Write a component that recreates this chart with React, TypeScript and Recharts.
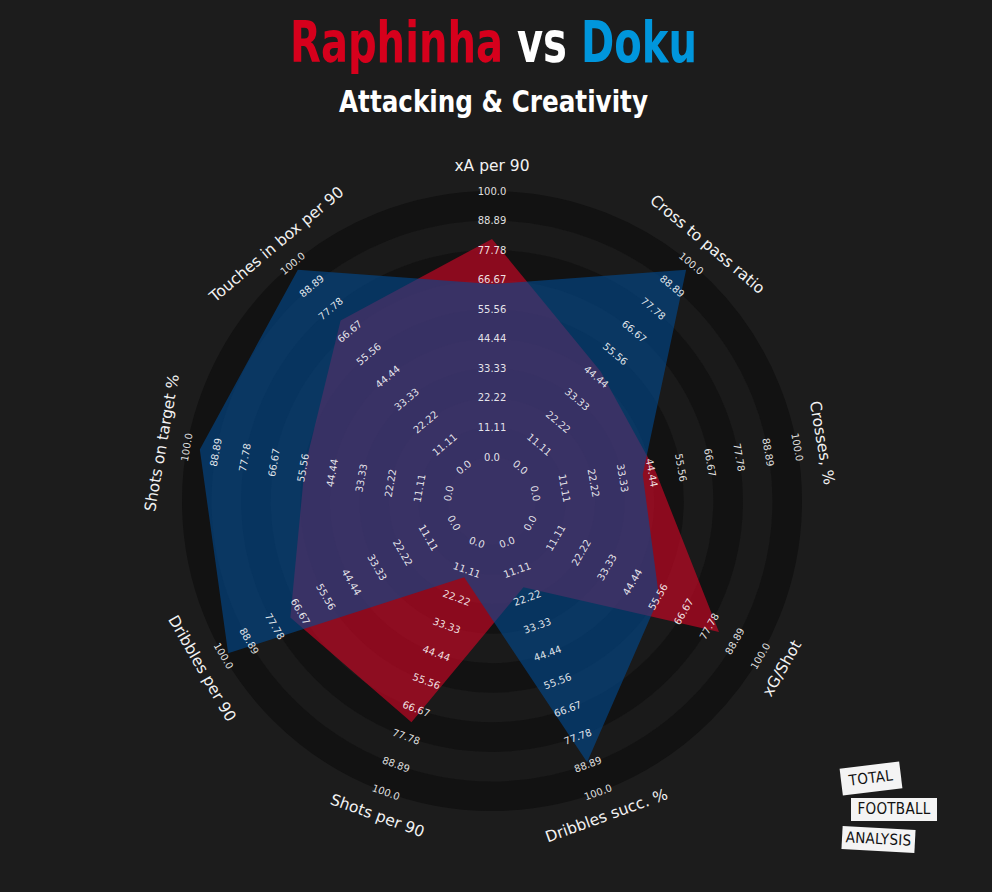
import React from 'react';
import { RadarChart, Radar, PolarGrid, PolarAngleAxis, PolarRadiusAxis } from 'recharts';

// metrics clockwise from the top
const metrics = [
  'xA per 90',
  'Cross to pass ratio',
  'Crosses, %',
  'xG/Shot',
  'Dribbles succ. %',
  'Shots per 90',
  'Dribbles per 90',
  'Shots on target %',
  'Touches in box per 90',
];
const raphinhaValues = [82, 47, 46, 82, 18, 72, 71, 55, 72];
const dokuValues = [65, 97, 41, 56, 88, 14, 98, 95, 97];
const rangeTicks = [0, 11.11, 22.22, 33.33, 44.44, 55.56, 66.67, 77.78, 88.89, 100];
const rangeLabels = ['0.0', '11.11', '22.22', '33.33', '44.44', '55.56', '66.67', '77.78', '88.89', '100.0'];

const W = 992;
const H = 892;
const CX = 492;
const CY = 501;
const INNER_R = 44;
const OUTER_R = 310;
const LABEL_R = 335;
const DOMAIN_MAX = 100;

const BG = '#1c1c1c';
const RING_DARK = '#121212';
const RING_LIGHT = '#1a1a1a';
const RED = '#dc0526';
const BLUE = '#004b93';

const data = metrics.map((m, i) => ({ metric: m, raphinha: raphinhaValues[i], doku: dokuValues[i] }));

// same linear map the radius axis uses: domain [0, 100] -> [INNER_R, OUTER_R]
const rScale = (v: number) => INNER_R + (v / DOMAIN_MAX) * (OUTER_R - INNER_R);

// ring bands between consecutive range ticks, alternating dark / light
const ringStep = (OUTER_R - INNER_R) / (rangeTicks.length - 1);
const darkMids: number[] = [];
const lightMids: number[] = [];
for (let k = 0; k < rangeTicks.length - 1; k++) {
  const mid = (rScale(rangeTicks[k]) + rScale(rangeTicks[k + 1])) / 2;
  if (k % 2 === 0) darkMids.push(mid);
  else lightMids.push(mid);
}

// keep text readable (never upside down)
const upright = (deg: number) => {
  let r = deg;
  while (r > 90) r -= 180;
  while (r <= -90) r += 180;
  return r;
};

const polar = (cx: number, cy: number, r: number, deg: number) => {
  const rad = (-deg * Math.PI) / 180;
  return { x: cx + r * Math.cos(rad), y: cy + r * Math.sin(rad) };
};

const AxisTick = (props: any) => {
  const { payload } = props;
  const cx = props.cx ?? CX;
  const cy = props.cy ?? CY;
  const a = payload.coordinate;
  const rot = upright(90 - a);
  const p = polar(cx, cy, LABEL_R, a);
  return (
    <g>
      {rangeTicks.map((t, i) => {
        const q = polar(cx, cy, rScale(t), a);
        return (
          <text
            key={i}
            x={q.x}
            y={q.y}
            transform={`rotate(${rot}, ${q.x}, ${q.y})`}
            textAnchor="middle"
            dominantBaseline="central"
            fill="#ffffff"
            fillOpacity={0.88}
            fontSize={10}
            fontFamily="DejaVu Sans"
          >
            {rangeLabels[i]}
          </text>
        );
      })}
      <text
        x={p.x}
        y={p.y}
        transform={`rotate(${rot}, ${p.x}, ${p.y})`}
        textAnchor="middle"
        dominantBaseline="central"
        fill="#f2f2f2"
        fontSize={15.5}
        fontFamily="DejaVu Sans"
      >
        {payload.value}
      </text>
    </g>
  );
};

const Logo = () => {
  const box = (text: string, left: number, top: number, w: number, h: number, rot: number) => (
    <div
      style={{
        position: 'absolute',
        left,
        top,
        width: w,
        height: h,
        background: '#f4f4f4',
        transform: `rotate(${rot}deg)`,
        color: '#111',
        fontFamily: 'DejaVu Sans Condensed, DejaVu Sans',
        fontSize: 15,
        letterSpacing: 0.3,
        lineHeight: `${h}px`,
        textAlign: 'center',
      }}
    >
      {text}
    </div>
  );
  return (
    <>
      {box('TOTAL', 841, 765, 60, 27, -7)}
      {box('FOOTBALL', 851, 798, 86, 23, 0)}
      {box('ANALYSIS', 842, 828, 73, 23, 3)}
    </>
  );
};

export default function App() {
  return (
    <div style={{ position: 'absolute', left: 0, top: 0, width: W, height: H, background: BG, overflow: 'hidden' }}>
      <RadarChart
        width={W}
        height={H}
        data={data}
        cx={CX}
        cy={CY}
        innerRadius={INNER_R}
        outerRadius={OUTER_R}
        margin={{ top: 0, right: 0, bottom: 0, left: 0 }}
        style={{ position: 'absolute', left: 0, top: 0 }}
      >
        <PolarGrid gridType="circle" radialLines={false} polarRadius={[INNER_R / 2]} stroke={RING_LIGHT} strokeWidth={INNER_R} fill="none" />
        <PolarGrid gridType="circle" radialLines={false} polarRadius={lightMids} stroke={RING_LIGHT} strokeWidth={ringStep} fill="none" />
        <PolarGrid gridType="circle" radialLines={false} polarRadius={darkMids} stroke={RING_DARK} strokeWidth={ringStep} fill="none" />
        <PolarRadiusAxis type="number" domain={[0, DOMAIN_MAX]} tick={false} axisLine={false} tickLine={false} />
        <Radar
          name="Raphinha"
          dataKey="raphinha"
          fill={RED}
          fillOpacity={0.6}
          stroke="none"
          dot={false}
          isAnimationActive={false}
        />
        <Radar
          name="Doku"
          dataKey="doku"
          fill={BLUE}
          fillOpacity={0.6}
          stroke="none"
          dot={false}
          isAnimationActive={false}
        />
        <PolarAngleAxis dataKey="metric" axisLine={false} tickLine={false} tick={(p: any) => <AxisTick {...p} />} />
      </RadarChart>

      <svg width={W} height={130} style={{ position: 'absolute', left: 0, top: 0, pointerEvents: 'none' }}>
        {/* tall condensed look: small font stretched vertically */}
        <g transform="translate(290, 62) scale(1, 1.42)">
          <text
            x={0}
            y={0}
            fontFamily="DejaVu Sans Condensed, DejaVu Sans"
            fontWeight="bold"
            fontSize={40}
            textLength={407}
            lengthAdjust="spacingAndGlyphs"
          >
            <tspan fill="#d6001c">Raphinha</tspan>
            <tspan fill="#ffffff"> vs </tspan>
            <tspan fill="#0096dc">Doku</tspan>
          </text>
        </g>
        <text
          x={339}
          y={112}
          fill="#ffffff"
          fontFamily="DejaVu Sans Condensed, DejaVu Sans"
          fontWeight="bold"
          fontSize={30}
          textLength={309}
          lengthAdjust="spacingAndGlyphs"
        >
          Attacking &amp; Creativity
        </text>
      </svg>

      <Logo />
    </div>
  );
}
